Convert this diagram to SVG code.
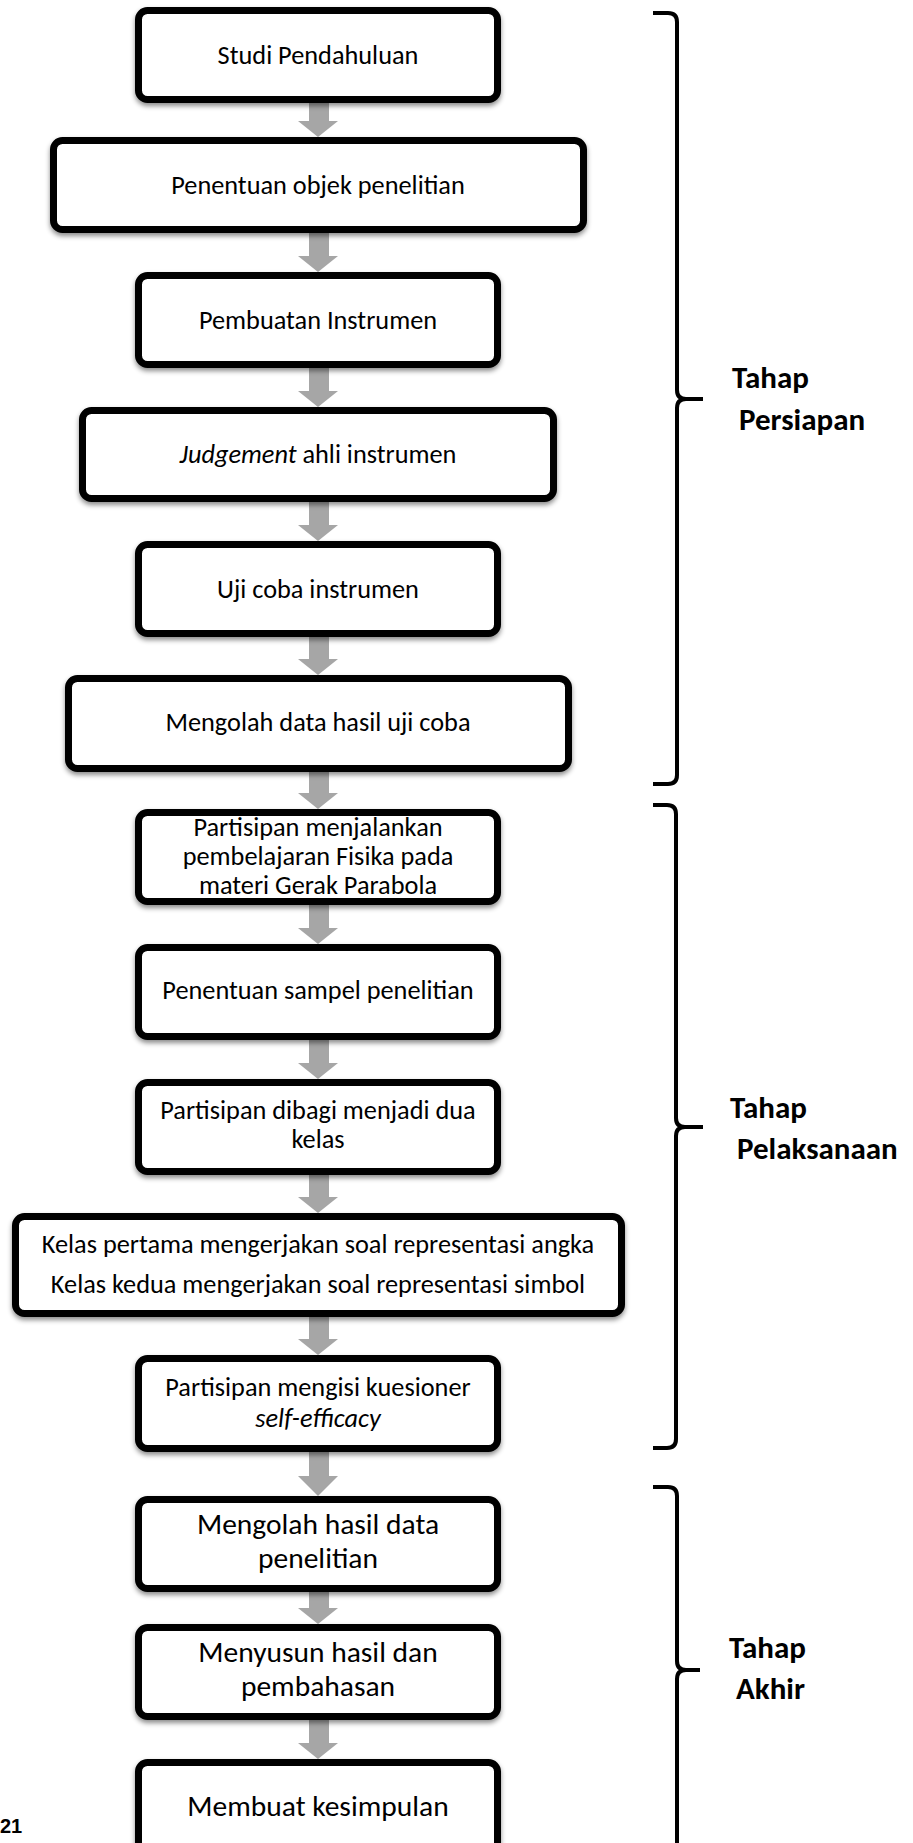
<svg xmlns="http://www.w3.org/2000/svg" width="913" height="1843" viewBox="0 0 913 1843">
<defs>
<filter id="sh" x="-5%" y="-10%" width="110%" height="130%">
<feDropShadow dx="0" dy="3" stdDeviation="2.5" flood-color="#000" flood-opacity="0.45"/>
</filter>
<style>
.box{fill:#fff;stroke:#000;stroke-width:7;filter:url(#sh)}
.t{font-family:Carlito,Calibri,Lato,sans-serif;font-size:26.3px;fill:#000;text-anchor:middle}
.tl{font-size:29.5px}
.lb{font-family:Carlito,Calibri,Lato,sans-serif;font-size:31px;font-weight:bold;fill:#000}
.ar{fill:#a6a6a6}
.br{fill:none;stroke:#000;stroke-width:4;stroke-linejoin:round}
.pg{font-family:"Liberation Sans",Arial,sans-serif;font-size:20px;font-weight:bold;fill:#000}
</style>
</defs>
<rect width="913" height="1843" fill="#fff"/>
<g id="connectors">
<path class="ar" d="M309,103H329V121H338L318,137L298,121H309Z"/>
<path class="ar" d="M309,233H329V256H338L318,272L298,256H309Z"/>
<path class="ar" d="M309,368H329V391H338L318,407L298,391H309Z"/>
<path class="ar" d="M309,502H329V525H338L318,541L298,525H309Z"/>
<path class="ar" d="M309,637H329V659H338L318,675L298,659H309Z"/>
<path class="ar" d="M309,772H329V793H338L318,809L298,793H309Z"/>
<path class="ar" d="M309,905H329V928H338L318,944L298,928H309Z"/>
<path class="ar" d="M309,1040H329V1063H338L318,1079L298,1063H309Z"/>
<path class="ar" d="M309,1175H329V1197H338L318,1213L298,1197H309Z"/>
<path class="ar" d="M309,1317H329V1339H338L318,1355L298,1339H309Z"/>
<path class="ar" d="M309,1452H329V1476H338L318,1496L298,1476H309Z"/>
<path class="ar" d="M309,1592H329V1608H338L318,1624L298,1608H309Z"/>
<path class="ar" d="M309,1720H329V1743H338L318,1759L298,1743H309Z"/>
</g>
<g id="n1"><rect class="box" x="138.5" y="10.5" width="359" height="89" rx="9"/><text class="t" x="318" y="64">Studi Pendahuluan</text></g>
<g id="n2"><rect class="box" x="53.5" y="140.5" width="530" height="89" rx="9"/><text class="t" x="318" y="194">Penentuan objek penelitian</text></g>
<g id="n3"><rect class="box" x="138.5" y="275.5" width="359" height="89" rx="9"/><text class="t" x="318" y="329">Pembuatan Instrumen</text></g>
<g id="n4"><rect class="box" x="82.5" y="410.5" width="471" height="88" rx="9"/><text class="t" x="318" y="463"><tspan font-style="italic">Judgement</tspan> ahli instrumen</text></g>
<g id="n5"><rect class="box" x="138.5" y="544.5" width="359" height="89" rx="9"/><text class="t" x="318" y="598">Uji coba instrumen</text></g>
<g id="n6"><rect class="box" x="68.5" y="678.5" width="500" height="90" rx="9"/><text class="t" x="318" y="731">Mengolah data hasil uji coba</text></g>
<g id="n7"><rect class="box" x="138.5" y="812.5" width="359" height="89" rx="9"/><text class="t" x="318" y="836">Partisipan menjalankan</text><text class="t" x="318" y="865">pembelajaran Fisika pada</text><text class="t" x="318" y="894">materi Gerak Parabola</text></g>
<g id="n8"><rect class="box" x="138.5" y="947.5" width="359" height="89" rx="9"/><text class="t" x="318" y="999">Penentuan sampel penelitian</text></g>
<g id="n9"><rect class="box" x="138.5" y="1082.5" width="359" height="89" rx="9"/><text class="t" x="318" y="1119">Partisipan dibagi menjadi dua</text><text class="t" x="318" y="1148">kelas</text></g>
<g id="n10"><rect class="box" x="15.5" y="1216.5" width="606" height="97" rx="9"/><text class="t" x="318" y="1253">Kelas pertama mengerjakan soal representasi angka</text><text class="t" x="318" y="1293">Kelas kedua mengerjakan soal representasi simbol</text></g>
<g id="n11"><rect class="box" x="138.5" y="1358.5" width="359" height="90" rx="9"/><text class="t" x="318" y="1396">Partisipan mengisi kuesioner</text><text class="t" x="318" y="1427" font-style="italic">self-efficacy</text></g>
<g id="n12"><rect class="box" x="138.5" y="1499.5" width="359" height="89" rx="9"/><text class="t tl" x="318" y="1534">Mengolah hasil data</text><text class="t tl" x="318" y="1568">penelitian</text></g>
<g id="n13"><rect class="box" x="138.5" y="1627.5" width="359" height="89" rx="9"/><text class="t tl" x="318" y="1662">Menyusun hasil dan</text><text class="t tl" x="318" y="1696">pembahasan</text></g>
<g id="n14"><rect class="box" x="138.5" y="1762.5" width="359" height="89" rx="9"/><text class="t tl" x="318" y="1816">Membuat kesimpulan</text></g>
<g id="braces">
<path class="br" d="M653,13H668Q677,13 677,22V390Q677,399 686,399H703M686,399Q677,399 677,408V775Q677,784 668,784H653"/>
<path class="br" d="M653,805H667Q676,805 676,814V1118Q676,1127 685,1127H703M685,1127Q676,1127 676,1136V1439Q676,1448 667,1448H653"/>
<path class="br" d="M653,1487H668Q677,1487 677,1496V1661Q677,1670 686,1670H700M686,1670Q677,1670 677,1679V1860"/>
</g>
<g id="labels">
<text class="lb" x="732" y="388">Tahap</text>
<text class="lb" x="739" y="430">Persiapan</text>
<text class="lb" x="730" y="1118">Tahap</text>
<text class="lb" x="737" y="1159">Pelaksanaan</text>
<text class="lb" x="729" y="1658">Tahap</text>
<text class="lb" x="736" y="1699">Akhir</text>
</g>
<text class="pg" x="0" y="1833">21</text>
</svg>
